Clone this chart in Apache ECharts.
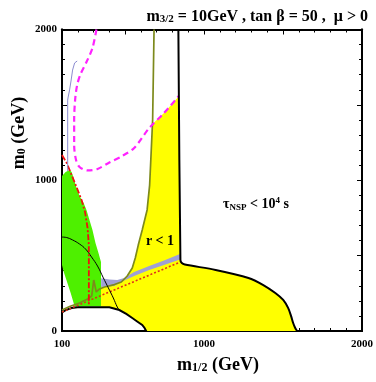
<!DOCTYPE html>
<html><head><meta charset="utf-8">
<script src="https://cdn.jsdelivr.net/npm/echarts@6/dist/echarts.min.js"></script>
<style>html,body{margin:0;padding:0;background:#fff}#c{width:376px;height:382px}</style>
</head><body><div id="c"></div>
<script>
// ---- axis ticks / labels ----
const xMinorTicks = [100,200,300,400,500,600,700,800,900,1000,1100,1200,1300,1400,1500,1600,1700,1800,1900,2000];
const xMajorTicks = [500,1000,1500,2000];
const xTickLabels = [100,1000,2000];
const yMinorTicks = [0,100,200,300,400,500,600,700,800,900,1000,1100,1200,1300,1400,1500,1600,1700,1800,1900,2000];
const yMajorTicks = [0,500,1000,1500,2000];
const yTickLabels = [0,1000,2000];

// ---- regions (m1/2 [GeV], m0 [GeV]) ----
const yellowRegion = [[347,159],[347,298],[369,292],[432,308],[476,325],[513,365],[545,418],[564,484],[583,570],[608,670],[639,803],[655,968],[661,1101],[673,1373],[746,1446],[841,1559],[850,471],[859,451],[878,441],[1073,405],[1281,352],[1375,305],[1451,252],[1501,206],[1532,153],[1551,99],[1564,53],[1577,20],[1589,0],[633,0],[623,20],[608,40],[576,63],[545,86],[507,113],[463,139],[400,157]];
const greenRegion = [[100,1028],[123,1055],[148,1068],[161,1055],[174,1015],[192,949],[211,895],[237,849],[255,803],[274,736],[293,670],[312,584],[331,517],[347,458],[347,163],[180,163],[155,252],[130,332],[111,391],[100,438]];
const excludedRegion = [[100,124],[123,139],[161,153],[199,157],[400,157],[463,139],[507,113],[545,86],[576,63],[608,40],[623,20],[633,0],[100,0]];
const blueBand = [[348,350],[400,342],[450,338],[494,352],[557,391],[652,431],[746,468],[847,511],[847,474],[746,438],[652,405],[557,365],[494,335],[432,298],[348,292]];

// ---- curves ----
const oliveLine = [[683,2000],[674,1400],[661,1101],[655,968],[639,803],[608,670],[583,570],[564,484],[545,418],[513,365],[476,325],[432,308],[369,292],[338,279],[317,259],[301,338],[288,232],[262,212],[211,186],[148,163],[100,139]];
const redDotted = [[100,126],[850,458]];
const redDashDot = [[100,1167],[130,1114],[161,1035],[192,955],[224,869],[246,789],[262,683],[270,570],[270,166]];
const thinBlack = [[100,623],[130,620],[167,604],[211,577],[249,544],[287,491],[325,431],[362,352],[394,285],[425,219],[450,159],[463,139]];
const magentaDashed = [[318,2000],[293,1877],[255,1784],[218,1705],[196,1632],[183,1532],[177,1400],[177,1234],[189,1134],[211,1088],[262,1065],[325,1075],[400,1118],[482,1161],[557,1214],[652,1346],[746,1446],[840,1559]];
const blueThin = [[196,1791],[180,1778],[167,1731],[158,1665],[148,1599],[139,1552],[136,1532],[136,1061]];
const blackBoundary = [[837,2000],[850,471],[859,451],[878,441],[1073,405],[1281,352],[1375,305],[1451,252],[1501,206],[1532,153],[1551,99],[1564,53],[1577,20],[1589,0]];

const SERIF = '"Liberation Serif","DejaVu Serif",serif';

function polySeries(pts, fill, stroke, lw, z) {
  return {
    type: 'custom', coordinateSystem: 'cartesian2d', xAxisIndex: 0, yAxisIndex: 0,
    clip: true, z: z, silent: true,
    data: pts,
    renderItem: function (params, api) {
      if (params.dataIndex !== 0) return;
      const p = pts.map(function (d) { return api.coord(d); });
      return { type: 'polygon', shape: { points: p },
        style: { fill: fill, stroke: stroke || null, lineWidth: lw || 0 } };
    }
  };
}
function lineSeries(pts, color, width, type, z, smooth) {
  return {
    type: 'line', xAxisIndex: 0, yAxisIndex: 0, data: pts, showSymbol: false, symbol: 'none',
    smooth: smooth || false, z: z, silent: true, clip: true,
    lineStyle: { color: color, width: width, type: type || 'solid', cap: 'butt' }
  };
}

const lbl = { fontFamily: SERIF, fontWeight: 'bold', fontSize: 11, color: '#000', formatter: function (v) { return String(v); } };
function mkX(pos, ticks, len, labels) {
  return { type: 'value', min: 100, max: 2000, position: pos,
    axisLine: { show: true, onZero: false, lineStyle: { color: '#000', width: 2 } },
    axisTick: { show: true, inside: true, length: len, customValues: ticks, lineStyle: { color: '#000', width: 1 } },
    axisLabel: labels ? Object.assign({ show: true, customValues: labels, margin: 8 }, lbl) : { show: false },
    splitLine: { show: false } };
}
function mkY(pos, ticks, len, labels) {
  return { type: 'value', min: 0, max: 2000, position: pos,
    axisLine: { show: true, onZero: false, lineStyle: { color: '#000', width: 2 } },
    axisTick: { show: true, inside: true, length: len, customValues: ticks, lineStyle: { color: '#000', width: 1 } },
    axisLabel: labels ? Object.assign({ show: true, customValues: labels, margin: 5 }, lbl) : { show: false },
    splitLine: { show: false } };
}

const chart = echarts.init(document.getElementById('c'), null, { renderer: 'canvas' });
chart.setOption({
  animation: false,
  backgroundColor: '#fff',
  grid: { left: 62, right: 12, top: 29.5, bottom: 51, containLabel: false },
  xAxis: [ mkX('bottom', xMinorTicks, 3, xTickLabels), mkX('bottom', xMajorTicks, 5, null),
           mkX('top', xMinorTicks, 3, null), mkX('top', xMajorTicks, 5, null) ],
  yAxis: [ mkY('left', yMinorTicks, 3, yTickLabels), mkY('left', yMajorTicks, 5, null),
           mkY('right', yMinorTicks, 3, null), mkY('right', yMajorTicks, 5, null) ],
  series: [
    polySeries(yellowRegion, '#ffff00', null, 0, 1),
    polySeries(greenRegion, '#4ef000', null, 0, 2),
    polySeries(excludedRegion, '#ffffff', '#000', 2, 3),
    polySeries(blueBand, '#9fa0d4', null, 0, 4),
    lineSeries(redDotted, '#e0301a', 1.6, [2, 2], 5),
    lineSeries(oliveLine, '#7d8a1c', 1.7, 'solid', 6),
    lineSeries(thinBlack, '#000', 1, 'solid', 6, 0.4),
    lineSeries(redDashDot, '#f01010', 1.8, [6, 2, 2, 2], 7),
    lineSeries(magentaDashed, '#ff22ff', 2.2, [6, 4], 7, 0.3),
    lineSeries(blueThin, '#8c8cd0', 1, 'solid', 7),
    lineSeries(blackBoundary, '#000', 2, 'solid', 8, 0.3)
  ],
  graphic: [
    { type: 'text', x: 368, y: 16, z: 100,
      style: { text: '{a|m}{s|3/2}{a| = 10GeV , tan β = 50 ,  μ > 0}', align: 'right', verticalAlign: 'middle',
        rich: { a: { fontFamily: SERIF, fontWeight: 'bold', fontSize: 16, lineHeight: 18, verticalAlign: 'bottom', fill: '#000' },
                s: { fontFamily: SERIF, fontWeight: 'bold', fontSize: 11, lineHeight: 9, verticalAlign: 'bottom', fill: '#000' } } } },
    { type: 'text', x: 218, y: 364, z: 100,
      style: { text: '{a|m}{s|1/2}{a| (GeV)}', align: 'center', verticalAlign: 'middle',
        rich: { a: { fontFamily: SERIF, fontWeight: 'bold', fontSize: 18, lineHeight: 20, verticalAlign: 'bottom', fill: '#000' },
                s: { fontFamily: SERIF, fontWeight: 'bold', fontSize: 12, lineHeight: 10, verticalAlign: 'bottom', fill: '#000' } } } },
    { type: 'text', x: 18, y: 133, rotation: Math.PI / 2, z: 100,
      style: { text: '{a|m}{s|0}{a| (GeV)}', align: 'center', verticalAlign: 'middle',
        rich: { a: { fontFamily: SERIF, fontWeight: 'bold', fontSize: 18, lineHeight: 20, verticalAlign: 'bottom', fill: '#000' },
                s: { fontFamily: SERIF, fontWeight: 'bold', fontSize: 12, lineHeight: 10, verticalAlign: 'bottom', fill: '#000' } } } },
    { type: 'text', x: 160, y: 241, z: 100,
      style: { text: 'r < 1', align: 'center', verticalAlign: 'middle',
        fontFamily: SERIF, fontWeight: 'bold', fontSize: 14, fill: '#000' } },
    { type: 'text', x: 256, y: 204, z: 100,
      style: { text: '{a|τ}{s|NSP}{a| < 10}{p|4}{a| s}', align: 'center', verticalAlign: 'middle',
        rich: { a: { fontFamily: SERIF, fontWeight: 'bold', fontSize: 14, lineHeight: 16, verticalAlign: 'middle', fill: '#000' },
                s: { fontFamily: SERIF, fontWeight: 'bold', fontSize: 9, lineHeight: 8, verticalAlign: 'bottom', fill: '#000' },
                p: { fontFamily: SERIF, fontWeight: 'bold', fontSize: 9, lineHeight: 8, verticalAlign: 'top', fill: '#000' } } } }
  ]
});
</script>
</body></html>
